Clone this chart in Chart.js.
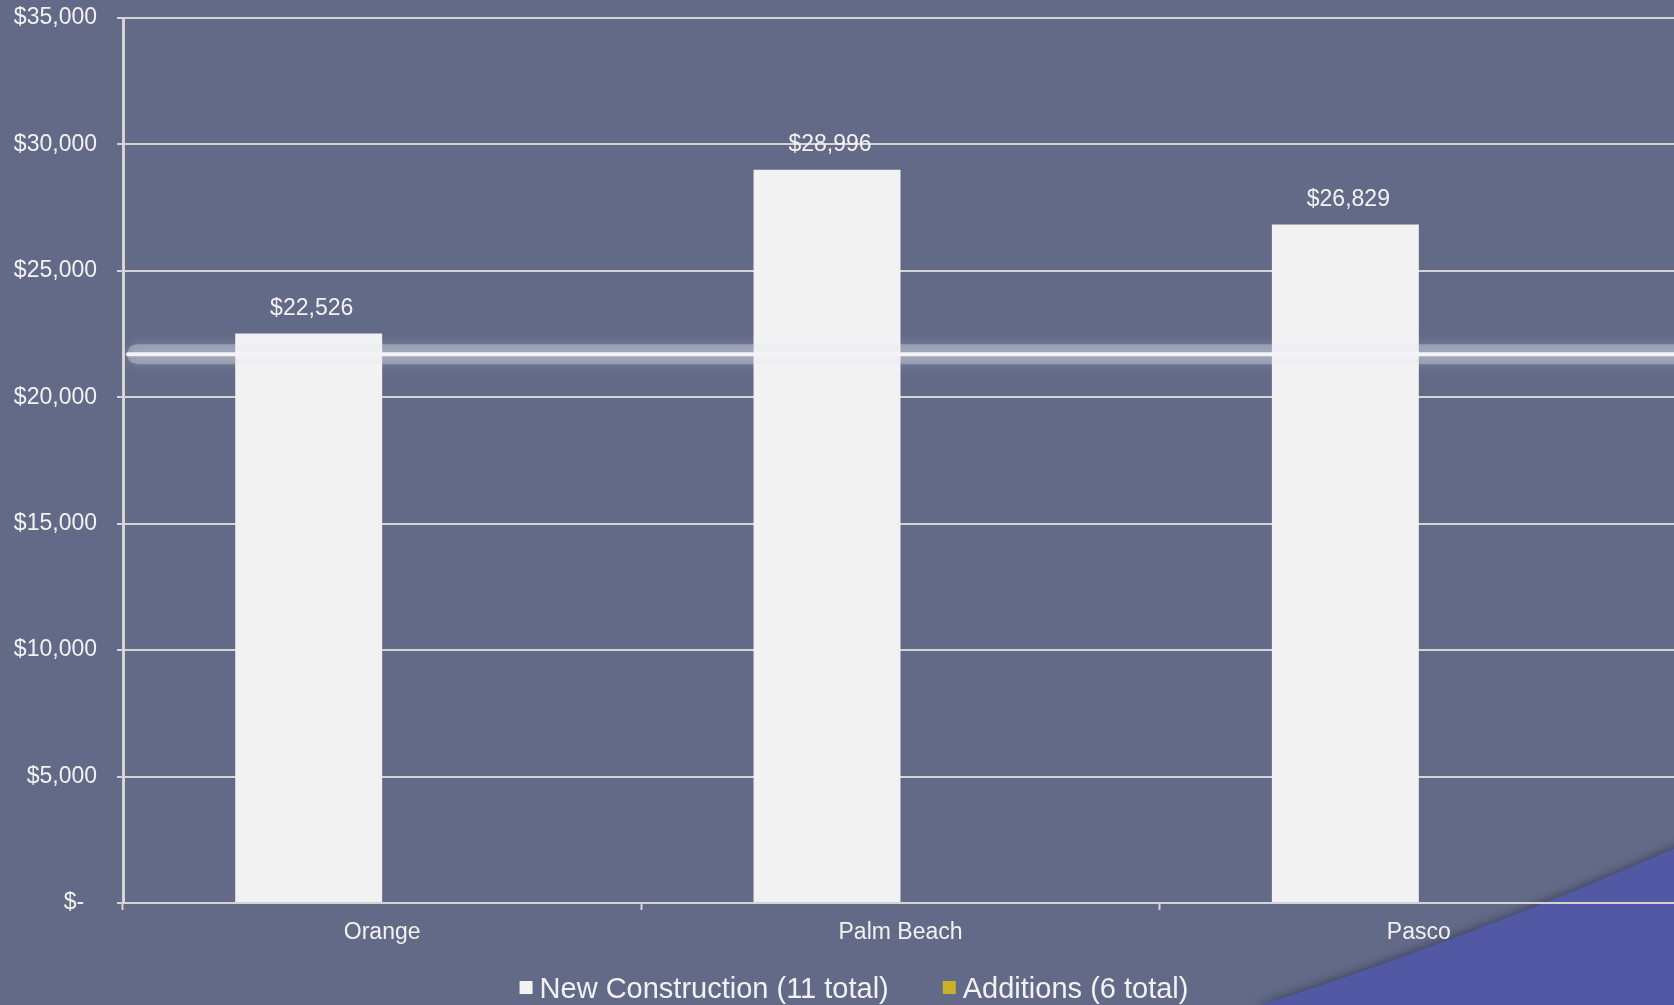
<!DOCTYPE html>
<html>
<head>
<meta charset="utf-8">
<script src="https://cdn.jsdelivr.net/npm/chart.js@4.4.1/dist/chart.umd.min.js"></script>
<style>
  html, body { margin: 0; padding: 0; overflow: hidden; background: #636a87; }
  #wrap { width: 1680px; height: 1005px; }
</style>
</head>
<body>
<div id="wrap"><canvas id="graph1" width="1680" height="1005"></canvas></div>
<script>
// chart data
var counties = ['Orange', 'Palm Beach', 'Pasco'];
var newConstruction = [22526, 28996, 26829];
var additions = [null, null, null];
var seriesNames = ['New Construction (11 total)', 'Additions (6 total)'];
var averageValue = 21700;
var yTicks = [0, 5000, 10000, 15000, 20000, 25000, 30000, 35000];

var fontFamily = "'Liberation Sans', Arial, sans-serif";
var textColor = '#f2f2f2';
var barWhite = '#f2f2f2';
var addYellow = '#c9b12a';

function money(v) {
  if (v === 0) return '$-  ';
  return '$' + v.toLocaleString('en-US');
}

// background swoosh in the bottom right corner
var backdrop = {
  id: 'backdrop',
  beforeDraw: function (chart) {
    var ctx = chart.ctx;
    var w = chart.width, h = chart.height;
    ctx.save();
    ctx.fillStyle = '#636a87';
    ctx.fillRect(0, 0, w, h);
    ctx.beginPath();
    ctx.moveTo(1255, h + 2);
    ctx.quadraticCurveTo(1470, 938, w + 2, 845);
    ctx.lineTo(w + 2, h + 2);
    ctx.closePath();
    ctx.shadowColor = 'rgba(40,45,70,0.6)';
    ctx.shadowBlur = 8;
    ctx.shadowOffsetY = -2;
    ctx.fillStyle = '#5258a3';
    ctx.fill();
    ctx.restore();
  }
};

// glowing average line
var avgLine = {
  id: 'avgLine',
  afterDatasetsDraw: function (chart) {
    var ctx = chart.ctx;
    var area = chart.chartArea;
    var y = chart.scales.y.getPixelForValue(averageValue);
    ctx.save();
    ctx.lineCap = 'round';
    ctx.strokeStyle = 'rgba(230,232,242,0.35)';
    ctx.lineWidth = 20;
    ctx.shadowColor = 'rgba(255,255,255,0.5)';
    ctx.shadowBlur = 12;
    ctx.beginPath();
    ctx.moveTo(area.left + 14, y);
    ctx.lineTo(area.right + 20, y);
    ctx.stroke();
    ctx.shadowBlur = 0;
    ctx.strokeStyle = '#f4f4f6';
    ctx.lineWidth = 4;
    ctx.beginPath();
    ctx.moveTo(area.left + 5, y);
    ctx.lineTo(area.right + 20, y);
    ctx.stroke();
    ctx.restore();
  }
};

// value labels above bars
var valueLabels = {
  id: 'valueLabels',
  afterDatasetsDraw: function (chart) {
    var ctx = chart.ctx;
    var meta = chart.getDatasetMeta(0);
    ctx.save();
    ctx.font = '23px ' + fontFamily;
    ctx.fillStyle = textColor;
    ctx.textAlign = 'center';
    ctx.textBaseline = 'middle';
    meta.data.forEach(function (bar, i) {
      var v = newConstruction[i];
      if (v == null) return;
      ctx.fillText(money(v), bar.x + 3, bar.y - 25);
    });
    ctx.restore();
  }
};

// legend along the bottom
var legendBox = {
  id: 'legendBox',
  afterDraw: function (chart) {
    var ctx = chart.ctx;
    var colors = [barWhite, addYellow];
    ctx.save();
    ctx.font = '29px ' + fontFamily;
    ctx.textBaseline = 'alphabetic';
    var widths = seriesNames.map(function (s) { return ctx.measureText(s).width; });
    var total = 0;
    widths.forEach(function (tw, i) { total += 13 + 7 + tw + (i < widths.length - 1 ? 54 : 0); });
    var x = 854 - total / 2;
    var baseY = 998;
    seriesNames.forEach(function (s, i) {
      ctx.fillStyle = colors[i];
      ctx.fillRect(x, 981, 13, 13);
      x += 20;
      ctx.fillStyle = textColor;
      ctx.fillText(s, x, baseY);
      x += widths[i] + 54;
    });
    ctx.restore();
  }
};

Chart.defaults.font.family = fontFamily;
Chart.defaults.color = textColor;

var ctx = document.getElementById('graph1').getContext('2d');
var chart = new Chart(ctx, {
  type: 'bar',
  data: {
    labels: counties,
    datasets: [
      {
        label: seriesNames[0],
        data: newConstruction,
        backgroundColor: barWhite,
        borderWidth: 0
      },
      {
        label: seriesNames[1],
        data: additions,
        backgroundColor: addYellow,
        borderWidth: 0
      }
    ]
  },
  options: {
    responsive: false,
    animation: false,
    devicePixelRatio: 1,
    layout: { padding: { top: 18, right: 2, left: 0, bottom: 0 } },
    plugins: {
      legend: { display: false },
      tooltip: { enabled: false }
    },
    datasets: {
      bar: { categoryPercentage: 0.567, barPercentage: 1 }
    },
    scales: {
      x: {
        grid: {
          display: true,
          drawOnChartArea: false,
          drawTicks: true,
          tickLength: 7,
          tickWidth: 2,
          color: '#d4d4d4',
          offset: true
        },
        border: { display: true, color: '#d4d4d4', width: 2 },
        ticks: { font: { size: 23 }, color: textColor, padding: 9, maxRotation: 0 },
        afterFit: function (scale) { scale.height = 102; }
      },
      y: {
        min: 0,
        max: 35000,
        afterBuildTicks: function (scale) {
          scale.ticks = yTicks.map(function (v) { return { value: v }; });
        },
        grid: {
          color: '#d4d4d4',
          lineWidth: 2,
          drawTicks: true,
          tickLength: 6
        },
        border: { display: true, color: '#d4d4d4', width: 3 },
        ticks: {
          font: { size: 23 },
          color: textColor,
          padding: 20,
          callback: function (v) { return money(v); }
        },
        afterFit: function (scale) {
          scale.width = 123;
          scale.paddingTop = 0;
          scale.paddingBottom = 0;
        }
      }
    }
  },
  plugins: [backdrop, avgLine, valueLabels, legendBox]
});
</script>
</body>
</html>
